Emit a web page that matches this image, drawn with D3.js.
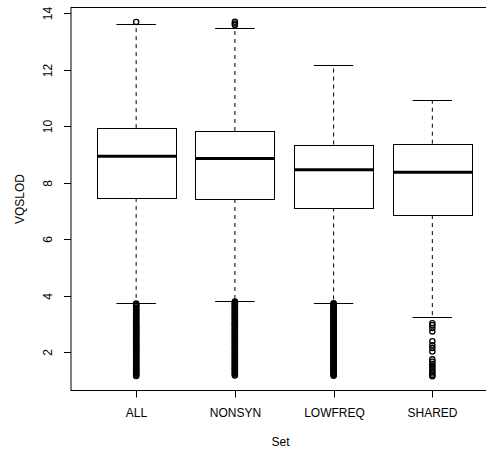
<!DOCTYPE html>
<html>
<head>
<meta charset="utf-8">
<script src="https://cdn.jsdelivr.net/npm/d3@7"></script>
<style>
  html, body { margin: 0; padding: 0; background: #fff; }
  svg { display: block; font-family: "Liberation Sans", Arial, Helvetica, sans-serif; }
</style>
</head>
<body>
<svg id="chart" width="486" height="450"></svg>
<script>
// Summary statistics of VQSLOD per variant set
const sets = ["ALL", "NONSYN", "LOWFREQ", "SHARED"];
const lowerWhisker = [3.74, 3.80, 3.75, 3.25];
const q1 = [7.46, 7.42, 7.12, 6.85];
const medians = [8.93, 8.85, 8.46, 8.37];
const q3 = [9.93, 9.83, 9.35, 9.38];
const upperWhisker = [13.63, 13.46, 12.16, 10.92];

// Points beyond the whiskers
const outliersAll = [13.69,
  3.72, 3.69, 3.66, 3.63, 3.58, 3.55, 3.51, 3.47, 3.44, 3.40, 3.36, 3.33, 3.29, 3.25,
  3.22, 3.18, 3.15, 3.11, 3.08, 3.04, 3.01, 2.97, 2.94, 2.92, 2.89, 2.86, 2.82, 2.79,
  2.76, 2.74, 2.71, 2.68, 2.64, 2.61, 2.58, 2.55, 2.52, 2.50, 2.46, 2.43, 2.40, 2.37,
  2.34, 2.31, 2.27, 2.24, 2.21, 2.19, 2.15, 2.12, 2.09, 2.06, 2.03, 2.01, 1.97, 1.94,
  1.91, 1.88, 1.84, 1.81, 1.78, 1.76, 1.72, 1.69, 1.66, 1.63, 1.60, 1.57, 1.53, 1.50,
  1.47, 1.44, 1.41, 1.38, 1.34, 1.31, 1.28, 1.26, 1.23, 1.20, 1.17, 1.15];
const outliersNonsyn = [13.58, 13.64, 13.70,
  3.79, 3.76, 3.74, 3.70, 3.67, 3.64, 3.60, 3.57, 3.54, 3.52, 3.49, 3.46, 3.42, 3.39,
  3.36, 3.34, 3.30, 3.27, 3.24, 3.21, 3.18, 3.16, 3.12, 3.09, 3.05, 3.02, 3.00, 2.98,
  2.94, 2.91, 2.88, 2.85, 2.81, 2.78, 2.75, 2.73, 2.69, 2.66, 2.63, 2.60, 2.57, 2.54,
  2.50, 2.47, 2.44, 2.42, 2.38, 2.35, 2.32, 2.29, 2.25, 2.22, 2.19, 2.17, 2.13, 2.10,
  2.07, 2.04, 2.00, 1.97, 1.94, 1.92, 1.88, 1.85, 1.82, 1.79, 1.76, 1.73, 1.69, 1.66,
  1.63, 1.61, 1.57, 1.54, 1.51, 1.48, 1.44, 1.41, 1.38, 1.36, 1.32, 1.29, 1.26, 1.23,
  1.20, 1.17];
const outliersLowfreq = [
  3.73, 3.70, 3.68, 3.64, 3.61, 3.58, 3.56, 3.52, 3.49, 3.46, 3.43, 3.40, 3.38, 3.34,
  3.31, 3.28, 3.25, 3.21, 3.18, 3.15, 3.13, 3.09, 3.06, 3.03, 3.00, 2.97, 2.94, 2.91,
  2.88, 2.84, 2.81, 2.79, 2.76, 2.72, 2.69, 2.66, 2.63, 2.60, 2.57, 2.54, 2.51, 2.48,
  2.45, 2.42, 2.39, 2.35, 2.32, 2.30, 2.27, 2.23, 2.20, 2.17, 2.14, 2.11, 2.08, 2.05,
  2.02, 1.99, 1.96, 1.92, 1.89, 1.86, 1.83, 1.80, 1.78, 1.74, 1.71, 1.68, 1.65, 1.62,
  1.59, 1.55, 1.52, 1.49, 1.46, 1.43, 1.40, 1.37, 1.34, 1.31, 1.28, 1.25, 1.22, 1.19,
  1.16];
const outliersShared = [3.02, 2.95, 2.85, 2.73, 2.38, 2.24, 2.14, 2.02,
  1.74, 1.66, 1.58, 1.51, 1.44, 1.37, 1.30, 1.24, 1.18, 1.14];
const outliers = [outliersAll, outliersNonsyn, outliersLowfreq, outliersShared];

const yTicks = [2, 4, 6, 8, 10, 12, 14];
const xTitle = "Set";
const yTitle = "VQSLOD";

// Plot region (right edge runs past the canvas)
const plot = { left: 71, right: 497.5, top: 7.5, bottom: 390.5 };

const svg = d3.select("#chart");

// Categorical positions 1..n with R-style padding
const x = d3.scaleLinear()
  .domain([0.5 - 0.16, sets.length + 0.5 + 0.16])
  .range([plot.left, plot.right]);

const allVals = outliers.flat().concat(lowerWhisker, upperWhisker);
const [lo, hi] = d3.extent(allVals);
const pad = (hi - lo) * 0.04;
const y = d3.scaleLinear().domain([lo - pad, hi + pad]).range([plot.bottom, plot.top]);

const unit = x(2) - x(1);
const boxW = unit * 0.8;
const stapleW = boxW * 0.5;

const g = svg.append("g");

sets.forEach((s, i) => {
  const cx = x(i + 1);
  const grp = g.append("g");

  // whiskers
  grp.append("line")
    .attr("x1", cx).attr("x2", cx)
    .attr("y1", y(q3[i])).attr("y2", y(upperWhisker[i]))
    .attr("stroke", "#000").attr("stroke-width", 1).attr("stroke-dasharray", "4,4");
  grp.append("line")
    .attr("x1", cx).attr("x2", cx)
    .attr("y1", y(q1[i])).attr("y2", y(lowerWhisker[i]))
    .attr("stroke", "#000").attr("stroke-width", 1).attr("stroke-dasharray", "4,4");

  // staples
  [upperWhisker[i], lowerWhisker[i]].forEach(v => {
    grp.append("line")
      .attr("x1", cx - stapleW / 2).attr("x2", cx + stapleW / 2)
      .attr("y1", Math.round(y(v)) + 0.5).attr("y2", Math.round(y(v)) + 0.5)
      .attr("stroke", "#000").attr("stroke-width", 1);
  });

  // box
  grp.append("rect")
    .attr("x", Math.round(cx - boxW / 2) + 0.5)
    .attr("y", Math.round(y(q3[i])) + 0.5)
    .attr("width", Math.round(boxW))
    .attr("height", Math.round(y(q1[i]) - y(q3[i])))
    .attr("fill", "#fff").attr("stroke", "#000").attr("stroke-width", 1);

  // median
  grp.append("line")
    .attr("x1", Math.round(cx - boxW / 2) + 0.5).attr("x2", Math.round(cx - boxW / 2) + 0.5 + Math.round(boxW))
    .attr("y1", y(medians[i])).attr("y2", y(medians[i]))
    .attr("stroke", "#000").attr("stroke-width", 3);

  // outlier circles
  grp.selectAll("circle.out")
    .data(outliers[i])
    .join("circle")
    .attr("class", "out")
    .attr("cx", cx).attr("cy", d => y(d))
    .attr("r", 2.6)
    .attr("fill", "none").attr("stroke", "#000").attr("stroke-width", 1.3);
});

// frame around plot region
svg.append("rect")
  .attr("x", plot.left).attr("y", plot.top)
  .attr("width", plot.right - plot.left).attr("height", plot.bottom - plot.top)
  .attr("fill", "none").attr("stroke", "#000").attr("stroke-width", 1);

// y axis
const yAxis = svg.append("g");
yTicks.forEach(t => {
  const yy = Math.round(y(t)) + 0.5;
  yAxis.append("line")
    .attr("x1", plot.left - 7).attr("x2", plot.left)
    .attr("y1", yy).attr("y2", yy)
    .attr("stroke", "#000");
  yAxis.append("text")
    .attr("transform", `translate(${plot.left - 19},${yy}) rotate(-90)`)
    .attr("text-anchor", "middle")
    .attr("font-size", 12)
    .text(t);
});

// x axis
const xAxis = svg.append("g");
sets.forEach((s, i) => {
  const xx = Math.round(x(i + 1)) + 0.5;
  xAxis.append("line")
    .attr("x1", xx).attr("x2", xx)
    .attr("y1", plot.bottom).attr("y2", plot.bottom + 7)
    .attr("stroke", "#000");
  xAxis.append("text")
    .attr("x", xx).attr("y", plot.bottom + 26)
    .attr("text-anchor", "middle")
    .attr("font-size", 12)
    .text(s);
});

// axis titles
svg.append("text")
  .attr("x", (plot.left + 486) / 2 + 2).attr("y", plot.bottom + 55)
  .attr("text-anchor", "middle").attr("font-size", 12)
  .text(xTitle);
svg.append("text")
  .attr("transform", `translate(24,${(plot.top + plot.bottom) / 2}) rotate(-90)`)
  .attr("text-anchor", "middle").attr("font-size", 12)
  .text(yTitle);
</script>
</body>
</html>
